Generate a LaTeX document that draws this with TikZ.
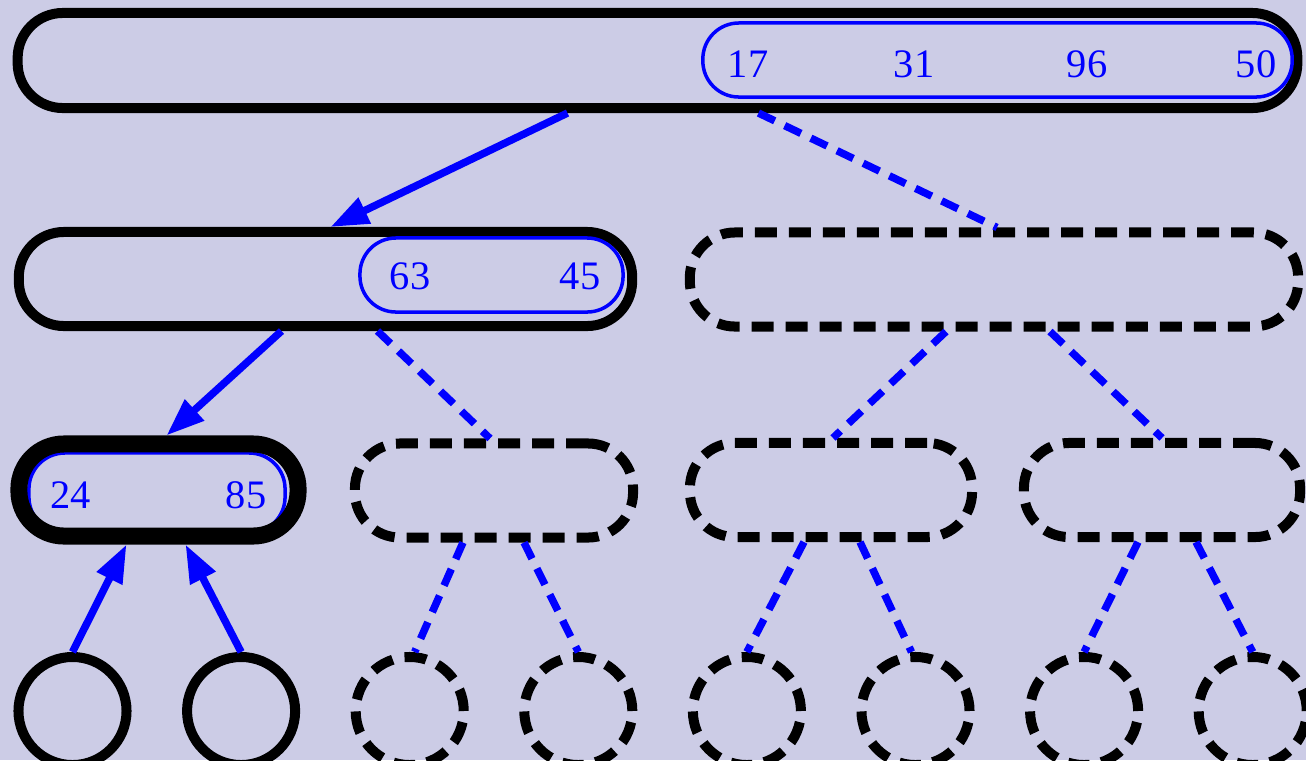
\documentclass[tikz,border=0pt]{standalone}
\usepackage{fontspec}
\setmainfont{Liberation Serif}
\usetikzlibrary{arrows.meta, calc}
\definecolor{heapbg}{RGB}{204,204,230}

\begin{document}
\begin{tikzpicture}[
    x=0.01cm,
    y=-0.01cm,
    font=\fontsize{11.5}{13}\selectfont,
    bag/.style={
        draw=black,
        line width=1mm,
        rounded corners=4.5mm,
        inner sep=0pt,
        minimum height=9.4mm
    },
    ghost/.style={
        bag,
        dash pattern=on 2.2mm off 1.2mm
    },
    hot/.style={
        bag,
        line width=1.7mm
    },
    run/.style={
        draw=blue,
        line width=0.35mm,
        rounded corners=3.6mm,
        inner sep=0pt,
        minimum height=7.4mm
    },
    key/.style={
        text=blue,
        inner sep=0pt
    },
    leaf/.style={
        circle,
        draw=black,
        line width=1mm,
        inner sep=0pt,
        minimum size=10.8mm
    },
    ghostleaf/.style={
        leaf,
        dash pattern=on 2.2mm off 1.2mm
    },
    link/.style={
        blue,
        line width=0.75mm,
        -{Triangle[length=3.8mm,width=2.7mm]}
    },
    dlink/.style={
        blue,
        line width=0.75mm,
        dash pattern=on 1.8mm off 1.1mm
    }
]

% Background
\fill[heapbg] (0,0) rectangle (1306,760);
\useasboundingbox (0,0) rectangle (1306,760);

% Root
\node[bag, minimum width=12.79cm, minimum height=9.5mm] (root) at (657.5,60.5) {};
\node[run, minimum width=5.89cm] (rootrun) at (997.5,60) {};
\node[key] (k17) at (748,64) {17};
\node[key] (k31) at (914,64) {31};
\node[key] (k96) at (1087,64) {96};
\node[key] (k50) at (1256,64) {50};

% Second level
\node[bag, minimum width=6.13cm] (midA) at (325.5,279) {};
\node[run, minimum width=2.63cm] (midArun) at (491.5,275) {};
\node[key] (k63) at (410,276) {63};
\node[key] (k45) at (580,276) {45};
\node[ghost, minimum width=6.08cm] (midB) at (994,279.5) {};

% Third level
\node[run, minimum width=2.56cm, minimum height=8mm] (lowArun) at (157,493) {};
\node[hot, minimum width=2.79cm, minimum height=9.2mm] (lowA) at (158.5,490) {};
\node[key] (k24) at (70.5,495) {24};
\node[key] (k85) at (246,495) {85};
\node[ghost, minimum width=2.78cm] (lowB) at (494,490.5) {};
\node[ghost, minimum width=2.82cm] (lowC) at (831,490) {};
\node[ghost, minimum width=2.76cm] (lowD) at (1162,490) {};

% Leaves
\foreach \i/\s in {1/leaf,2/leaf,3/ghostleaf,4/ghostleaf,
                   5/ghostleaf,6/ghostleaf,7/ghostleaf,8/ghostleaf} {
    \node[\s] (leaf\i) at ({72.5+168.6*(\i-1)},711) {};
}

% Edges
\draw[link] ($(root.south)+(-90,0)$) -- ($(midA.north)+(5,0)$);
\draw[dlink] ($(root.south)+(101,0)$) -- ($(midB.north)+(3,0)$);
\draw[link] ($(midA.south)+(-44,0)$) -- ($(lowA.north)+(8,0)$);
\draw[dlink] ($(midA.south)+(52,0)$) -- ($(lowB.north)+(-4,0)$);
\draw[dlink] ($(midB.south)+(-48,0)$) -- ($(lowC.north)+(2,0)$);
\draw[dlink] ($(midB.south)+(56,0)$) -- (lowD.north);
\draw[link] (leaf1.north) -- ($(lowA.south)+(-32,0)$);
\draw[link] (leaf2.north) -- ($(lowA.south)+(27,0)$);
\draw[dlink] ($(lowB.south)+(-31,0)$) -- ($(leaf3.north)+(5,0)$);
\draw[dlink] ($(lowB.south)+(30,0)$) -- (leaf4.north);
\draw[dlink] ($(lowC.south)+(-27,0)$) -- (leaf5.north);
\draw[dlink] ($(lowC.south)+(29,0)$) -- ($(leaf6.north)+(-4,0)$);
\draw[dlink] ($(lowD.south)+(-24,0)$) -- (leaf7.north);
\draw[dlink] ($(lowD.south)+(34,0)$) -- (leaf8.north);

\end{tikzpicture}
\end{document}
